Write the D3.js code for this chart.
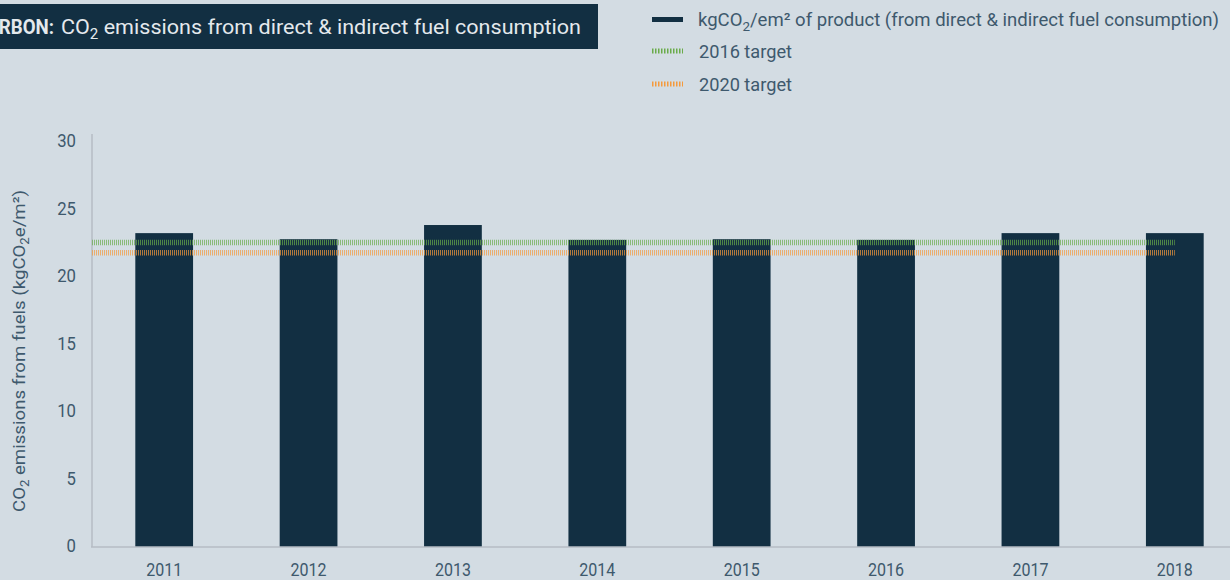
<!DOCTYPE html>
<html>
<head>
<meta charset="utf-8">
<script src="https://cdn.jsdelivr.net/npm/d3@7"></script>
<style>
  html, body { margin: 0; padding: 0; background: #d3dce3; }
  svg { display: block; font-family: Roboto, "Noto Sans", sans-serif; }
</style>
</head>
<body>
<svg width="1230" height="580"></svg>
<script>
// data
const years = ["2011", "2012", "2013", "2014", "2015", "2016", "2017", "2018"];
const emissions = [23.25, 22.8, 23.85, 22.75, 22.8, 22.75, 23.25, 23.25];
const target2016 = 22.55;
const target2020 = 21.8;
const yTicks = [0, 5, 10, 15, 20, 25, 30];

const dark = "#122f42";
const textCol = "#3e596d";
const green = "#6aab4a";
const orange = "#f59a3c";

const svg = d3.select("svg");

const x = d3.scaleBand()
  .domain(years)
  .range([92, 1247])
  .paddingInner(0.6)
  .paddingOuter(0.3);

const y = d3.scaleLinear()
  .domain([0, 30])
  .range([547, 142]);

// squeeze text to a width (the original uses a condensed DIN-like face)
function fit(sel, w) {
  sel.attr("textLength", w).attr("lengthAdjust", "spacingAndGlyphs");
}

// title box
svg.append("rect")
  .attr("x", -10).attr("y", 4)
  .attr("width", 608).attr("height", 45)
  .attr("fill", dark);

const bold = svg.append("text")
  .attr("x", 54).attr("y", 34)
  .attr("text-anchor", "end")
  .attr("fill", "#e4e9ed")
  .style("font-size", "20px")
  .style("font-weight", "bold")
  .text("CARBON:");
fit(bold, 80);

const title = svg.append("text")
  .attr("x", 61).attr("y", 34)
  .attr("fill", "#e4e9ed")
  .style("font-size", "20px");
title.append("tspan").text("CO");
title.append("tspan").attr("dy", 5).style("font-size", "14px").text("2");
title.append("tspan").attr("dy", -5).text(" emissions from direct & indirect fuel consumption");
fit(title, 520);

// legend
const legend = svg.append("g");
legend.append("rect")
  .attr("x", 652).attr("y", 17)
  .attr("width", 31).attr("height", 5)
  .attr("fill", dark);

const l1 = legend.append("text")
  .attr("x", 698).attr("y", 26)
  .attr("fill", textCol)
  .style("font-size", "18px");
l1.append("tspan").text("kgCO");
l1.append("tspan").attr("dy", 5).style("font-size", "13px").text("2");
l1.append("tspan").attr("dy", -5).text("/em² of product (from direct & indirect fuel consumption)");
fit(l1, 521);

[[green, "2016 target", 51], [orange, "2020 target", 84]].forEach(([c, label, ly]) => {
  legend.append("line")
    .attr("x1", 652).attr("x2", 683)
    .attr("y1", ly).attr("y2", ly)
    .attr("stroke", c)
    .attr("stroke-width", 5)
    .attr("stroke-dasharray", "1.5,1.5");
  const t = legend.append("text")
    .attr("x", 699).attr("y", ly + 7)
    .attr("fill", textCol)
    .style("font-size", "18px")
    .text(label);
  fit(t, 93);
});

// y axis ticks
const yAxis = svg.append("g")
  .attr("transform", "translate(76,0)")
  .call(d3.axisLeft(y).tickValues(yTicks).tickSize(0).tickPadding(0));
yAxis.select(".domain").remove();
yAxis.selectAll("text")
  .attr("fill", textCol)
  .attr("dy", "0.25em")
  .style("font-size", "19px")
  .style("font-family", "Roboto, sans-serif")
  .each(function() { fit(d3.select(this), 9.4 * this.textContent.length); });

// y axis title
const yTitle = svg.append("text")
  .attr("transform", "translate(25,351) rotate(-90)")
  .attr("text-anchor", "middle")
  .attr("fill", textCol)
  .style("font-size", "17px");
yTitle.append("tspan").text("CO");
yTitle.append("tspan").attr("dy", 4).style("font-size", "12px").text("2");
yTitle.append("tspan").attr("dy", -4).text(" emissions from fuels (kgCO");
yTitle.append("tspan").attr("dy", 4).style("font-size", "12px").text("2");
yTitle.append("tspan").attr("dy", -4).text("e/m²)");
fit(yTitle, 322);

// bars
svg.append("g")
  .selectAll("rect")
  .data(emissions)
  .join("rect")
  .attr("x", (d, i) => x(years[i]))
  .attr("width", x.bandwidth())
  .attr("y", d => y(d))
  .attr("height", d => y(0) - y(d))
  .attr("fill", dark);

// axis lines
svg.append("line")
  .attr("x1", 92).attr("x2", 92)
  .attr("y1", 134).attr("y2", y(0))
  .attr("stroke", "#b6bdc4").attr("stroke-width", 1.5);
svg.append("line")
  .attr("x1", 91).attr("x2", 1250)
  .attr("y1", y(0)).attr("y2", y(0))
  .attr("stroke", "#b6bdc4").attr("stroke-width", 1.5);

// target lines
const lastCenter = x(years[years.length - 1]) + x.bandwidth() / 2;
[[target2016, green], [target2020, orange]].forEach(([v, c]) => {
  svg.append("line")
    .attr("x1", 92).attr("x2", lastCenter)
    .attr("y1", y(v)).attr("y2", y(v))
    .attr("stroke", c)
    .attr("stroke-width", 5.5)
    .attr("stroke-opacity", 0.7)
    .attr("stroke-dasharray", "1,1");
});

// x labels
const xAxis = svg.append("g")
  .attr("transform", `translate(0,${y(0)})`)
  .call(d3.axisBottom(x).tickSize(0).tickPadding(16));
xAxis.select(".domain").remove();
xAxis.selectAll("text")
  .attr("fill", textCol)
  .style("font-size", "19px")
  .style("font-family", "Roboto, sans-serif")
  .each(function() { fit(d3.select(this), 36); });
</script>
</body>
</html>
